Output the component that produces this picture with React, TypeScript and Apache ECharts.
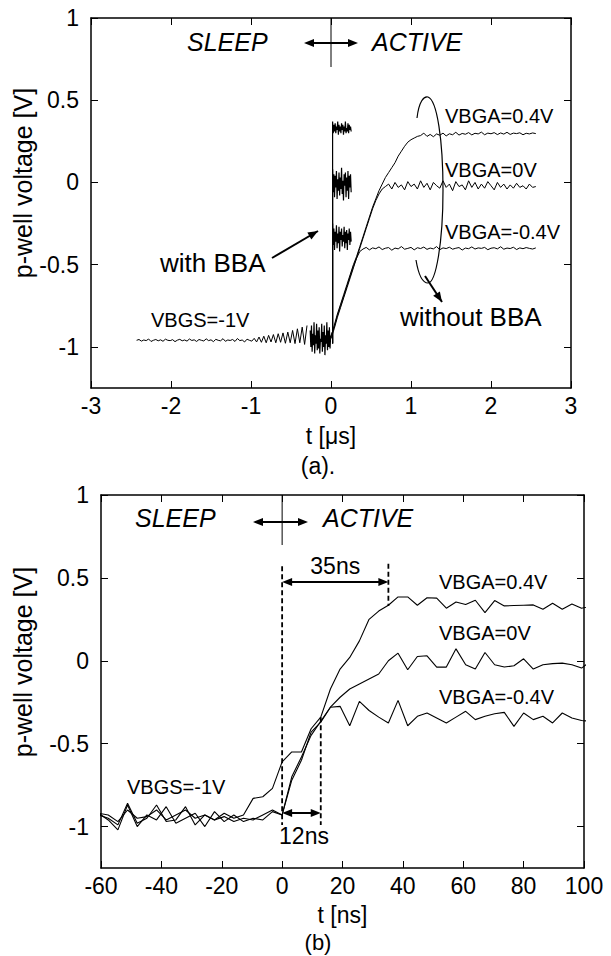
import React, { useEffect, useRef } from "react";
import * as echarts from "echarts";

const FONT = '"Liberation Sans", Arial, Helvetica, sans-serif';

// ---------- (a) microsecond scale ----------
const A_X_TICKS = [-3, -2, -1, 0, 1, 2, 3];
const A_Y_TICKS = [-1, -0.5, 0, 0.5, 1];
const A_SLEEP_T0 = -2.43;
const A_SLEEP_DT = 0.03;
const A_SLEEP = [
  -0.96, -0.955, -0.965, -0.958, -0.962, -0.952, -0.967, -0.96, -0.955, -0.963,
  -0.957, -0.966, -0.953, -0.96, -0.962, -0.956, -0.968, -0.959, -0.954, -0.963,
  -0.958, -0.965, -0.952, -0.961, -0.957, -0.967, -0.955, -0.96, -0.964, -0.951,
  -0.962, -0.957, -0.968, -0.954, -0.96, -0.963, -0.95, -0.966, -0.958, -0.961,
  -0.955, -0.967, -0.949, -0.962, -0.958, -0.97, -0.953, -0.96, -0.965, -0.948,
  -0.97, -0.94, -0.972, -0.935, -0.975, -0.93, -0.97, -0.925, -0.975, -0.92, -0.972,
  -0.915, -0.978, -0.91, -0.975, -0.9, -0.98, -0.89, -0.975, -0.88, -0.985, -0.87,
];
const A_BURST_T0 = -0.26;
const A_BURST_DT = 0.008;
const A_BURST = [
  -0.9, -1.0, -0.87, -1.03, -0.92, -0.99, -0.85, -1.04, -0.93, -0.98,
  -0.86, -1.02, -0.9, -1.01, -0.88, -1.04, -0.95, -0.97, -0.86, -1.03,
  -0.91, -1.0, -0.87, -1.05, -0.93, -0.98, -0.85, -1.02, -0.9, -1.0,
  -0.88, -1.01, -0.93,
];
// with BBA (fast jump)
const A_JUMP_FROM = -0.98;
const A_BBA_T0 = 0.02;
const A_BBA_DT = 0.008;
const A_BBA_P04 = [
  0.37, 0.3, 0.35, 0.31, 0.36, 0.3, 0.34, 0.32, 0.37, 0.29, 0.35, 0.31, 0.34, 0.3, 0.36,
  0.32, 0.35, 0.29, 0.34, 0.31, 0.37, 0.3, 0.33, 0.31, 0.36, 0.3, 0.35, 0.32, 0.34, 0.31,
];
const A_BBA_0 = [
  0.08, -0.06, 0.05, -0.09, 0.04, -0.03, 0.07, -0.1, 0.02, -0.05, 0.06, -0.08, 0.03, -0.04, 0.09,
  -0.07, 0.01, -0.11, 0.05, -0.02, 0.06, -0.09, 0.03, -0.05, 0.07, -0.1, 0.04, -0.03, 0.05, -0.06,
];
const A_BBA_M04 = [
  -0.25, -0.38, -0.28, -0.41, -0.3, -0.36, -0.26, -0.4, -0.31, -0.37, -0.27, -0.42, -0.3, -0.35, -0.28,
  -0.39, -0.32, -0.36, -0.27, -0.4, -0.3, -0.37, -0.29, -0.41, -0.31, -0.35, -0.28, -0.38, -0.3, -0.36,
];
// without BBA (slow ramp), t = 0, 0.04, ... 2.56
const A_NO_T0 = 0;
const A_NO_DT = 0.04;
const A_NO_P04 = [
  -0.94, -0.87, -0.8, -0.74, -0.68, -0.62, -0.56, -0.5, -0.45, -0.39,
  -0.33, -0.27, -0.21, -0.15, -0.1, -0.05, -0.01, 0.03, 0.06, 0.09,
  0.12, 0.16, 0.19, 0.22, 0.245, 0.26, 0.27, 0.28,
  0.285, 0.3, 0.28, 0.292, 0.278, 0.295, 0.287, 0.3, 0.283, 0.296, 0.29, 0.305, 0.288,
  0.298, 0.293, 0.303, 0.289, 0.299, 0.295, 0.306, 0.29, 0.3, 0.296, 0.303, 0.291, 0.301,
  0.294, 0.305, 0.292, 0.3, 0.297, 0.302, 0.29, 0.299, 0.295, 0.301, 0.297,
];
const A_NO_0 = [
  -0.95, -0.89, -0.82, -0.76, -0.7, -0.64, -0.58, -0.52, -0.46, -0.4,
  -0.34, -0.28, -0.22, -0.16, -0.11, -0.07, -0.04, -0.025,
  -0.01, -0.04, 0.0, -0.03, -0.015, -0.045, 0.005, -0.025, -0.01, -0.04, 0.01, -0.03,
  -0.005, -0.045, 0.0, -0.02, -0.035, 0.01, -0.03, -0.01, -0.05, 0.005, -0.025, -0.015,
  -0.045, 0.01, -0.03, 0.0, -0.04, -0.01, -0.035, 0.005, -0.02, -0.045, 0.0, -0.03,
  -0.01, -0.04, -0.015, -0.035, -0.005, -0.03, -0.02, -0.04, -0.01, -0.03, -0.025,
];
const A_NO_M04 = [
  -0.93, -0.88, -0.81, -0.75, -0.69, -0.63, -0.57, -0.51, -0.46, -0.42, -0.405,
  -0.395, -0.41, -0.398, -0.403, -0.392, -0.408, -0.4, -0.396, -0.412, -0.399,
  -0.404, -0.39, -0.406, -0.401, -0.395, -0.41, -0.397, -0.402, -0.393, -0.407,
  -0.399, -0.404, -0.39, -0.409, -0.398, -0.402, -0.394, -0.406, -0.4, -0.396,
  -0.411, -0.399, -0.403, -0.392, -0.405, -0.398, -0.401, -0.395, -0.409, -0.4,
  -0.397, -0.404, -0.391, -0.406, -0.399, -0.402, -0.394, -0.408, -0.398, -0.403,
  -0.396, -0.401, -0.405, -0.398,
];

// ---------- (b) nanosecond scale ----------
const B_X_TICKS = [-60, -40, -20, 0, 20, 40, 60, 80, 100];
const B_Y_TICKS = [-1, -0.5, 0, 0.5, 1];
const B_T0 = -60.8;
const B_DT = 3.2;
const B_P04 = [
  -0.92, -0.93, -0.97, -0.9, -0.95, -0.94, -0.9, -0.96, -0.93, -0.9, -0.95, -0.93, -0.96, -0.92, -0.95, -0.93,
  -0.83, -0.82, -0.77, -0.61, -0.55, -0.55, -0.41, -0.34, -0.17, -0.05, 0.02, 0.12, 0.25, 0.3,
  0.335, 0.385, 0.385, 0.335, 0.38, 0.378, 0.317, 0.355, 0.34, 0.365, 0.29, 0.363, 0.331,
  0.333, 0.335, 0.337, 0.311, 0.347, 0.311, 0.343, 0.317, 0.33,
];
const B_0 = [
  -0.93, -0.95, -0.99, -0.86, -0.98, -0.95, -0.87, -0.97, -0.96, -0.88, -0.99, -0.93, -0.96, -0.94, -0.97,
  -0.95, -0.96, -0.93, -0.9,
  -0.93, -0.72, -0.6, -0.43, -0.37, -0.28, -0.22, -0.17, -0.14, -0.11, -0.08, 0.0, 0.046, -0.054,
  0.026, 0.03, -0.038, -0.038, 0.072, -0.024, -0.05, 0.05, -0.024, -0.038, -0.03, 0.012, -0.05,
  -0.024, -0.017, -0.014, -0.024, -0.044, 0.0,
];
const B_M04 = [
  -0.92, -0.96, -1.02, -0.87, -1.0, -0.93, -0.96, -0.88, -0.98, -0.95, -0.92, -1.0, -0.91, -0.97, -0.93,
  -0.97, -0.95, -0.96, -0.91,
  -0.93, -0.7, -0.58, -0.45, -0.365, -0.28, -0.275, -0.392, -0.245, -0.3, -0.34, -0.375, -0.239,
  -0.392, -0.335, -0.315, -0.345, -0.375, -0.34, -0.305, -0.355, -0.335, -0.32, -0.311, -0.396,
  -0.315, -0.355, -0.335, -0.375, -0.315, -0.345, -0.36, -0.366,
];
const B_MARK_START = 0;
const B_MARK_12 = 12.8;
const B_MARK_35 = 35.2;

// ---------- layout ----------
const GA = { left: 91, top: 18, width: 480, height: 370 };
const GB = { left: 101, top: 495, width: 483, height: 373 };

const seq = (t0: number, dt: number, vals: number[]) =>
  vals.map((v, i) => [Number((t0 + dt * i).toFixed(4)), v]);

const axA = (t: number) => GA.left + ((t + 3) / 6) * GA.width;
const axB = (t: number) => GB.left + ((t + 60) / 160) * GB.width;
const ayB = (v: number) => GB.top + ((1 - v) / 2.25) * GB.height;

function head(x1: number, y1: number, x2: number, y2: number, len = 10, w = 4) {
  const dx = x2 - x1;
  const dy = y2 - y1;
  const L = Math.hypot(dx, dy);
  const ux = dx / L;
  const uy = dy / L;
  const bx = x2 - ux * len;
  const by = y2 - uy * len;
  return {
    type: "polygon",
    shape: { points: [[x2, y2], [bx - uy * w, by + ux * w], [bx + uy * w, by - ux * w]] },
    style: { fill: "#000" },
  };
}
function arrow(x1: number, y1: number, x2: number, y2: number, width = 2) {
  return [
    { type: "line", shape: { x1, y1, x2, y2 }, style: { stroke: "#000", lineWidth: width } },
    head(x1, y1, x2, y2),
  ];
}
function dblArrow(x1: number, x2: number, y: number, width = 2) {
  return [
    { type: "line", shape: { x1: x1 + 4, y1: y, x2: x2 - 4, y2: y }, style: { stroke: "#000", lineWidth: width } },
    head(x2, y, x1, y),
    head(x1, y, x2, y),
  ];
}
function label(text: string, x: number, y: number, size: number, opts: any = {}) {
  return {
    type: "text",
    x,
    y,
    rotation: opts.rotation || 0,
    style: {
      text,
      fill: "#000",
      fontSize: size,
      fontFamily: FONT,
      fontStyle: opts.italic ? "italic" : "normal",
      align: opts.align || "left",
      verticalAlign: "middle",
      textAlign: opts.align || "left",
      textVerticalAlign: "middle",
    },
  };
}
function dashed(x: number, y1: number, y2: number) {
  return {
    type: "line",
    shape: { x1: x, y1, x2: x, y2 },
    style: { stroke: "#000", lineWidth: 1.8, lineDash: [5, 3] },
  };
}

const LOOP_PATH =
  "M417 118 C419 101 424 96 428 97 C437 100 443 140 443 190 C443 242 436 283 428 283 C422 283 418 272 416 260";
echarts.graphic.registerShape("bbaLoop", echarts.graphic.extendPath(LOOP_PATH, {}));

const lineSeries = (data: number[][], xi: number, yi: number, width = 1) => ({
  type: "line",
  xAxisIndex: xi,
  yAxisIndex: yi,
  data,
  showSymbol: false,
  symbol: "none",
  silent: true,
  clip: true,
  lineStyle: { color: "#000", width },
});

function xAxisDef(grid: number, min: number, max: number, interval: number, pos: string, show: boolean) {
  return {
    type: "value",
    gridIndex: grid,
    min,
    max,
    interval,
    position: pos,
    axisLine: { show: true, onZero: false, lineStyle: { color: "#000", width: 1.5 } },
    axisTick: { show: true, inside: true, length: 7, lineStyle: { color: "#000", width: 1 } },
    axisLabel: { show, color: "#000", fontSize: 23, fontFamily: FONT, margin: 6 },
    splitLine: { show: false },
  };
}
function yAxisDef(grid: number, ticks: number[], pos: string, show: boolean) {
  return {
    type: "value",
    gridIndex: grid,
    min: -1.25,
    max: 1,
    position: pos,
    axisLine: { show: true, onZero: false, lineStyle: { color: "#000", width: 1.5 } },
    axisTick: { show: true, inside: true, length: 7, customValues: ticks, lineStyle: { color: "#000", width: 1 } },
    axisLabel: { show, customValues: ticks, color: "#000", fontSize: 23, fontFamily: FONT, margin: 12 },
    splitLine: { show: false },
  };
}

export default function App() {
  const ref = useRef<HTMLDivElement>(null);
  useEffect(() => {
    if (!ref.current) return;
    const chart = echarts.init(ref.current, undefined, { renderer: "svg" });

    const graphic: any[] = [
      // ---- (a) ----
      label("SLEEP", 187, 42, 25, { italic: true }),
      label("ACTIVE", 372, 42, 25, { italic: true }),
      { type: "line", shape: { x1: axA(0), y1: GA.top, x2: axA(0), y2: 67 }, style: { stroke: "#000", lineWidth: 1 } },
      ...dblArrow(304, 358, 43),
      label("VBGA=0.4V", 445, 116, 20),
      label("VBGA=0V", 445, 170, 20),
      label("VBGA=-0.4V", 445, 232, 20),
      label("VBGS=-1V", 151, 320, 20),
      label("with BBA", 160, 263, 26),
      ...arrow(272, 258, 318, 231),
      label("without BBA", 400, 317, 26),
      { type: "bbaLoop", x: 0, y: 0, style: { stroke: "#000", fill: "none", lineWidth: 1.2 } },
      ...arrow(425, 276, 442, 302),
      label("t [\u03bcs]", axA(0), 436, 23, { align: "center" }),
      label("(a).", 318, 466, 23, { align: "center" }),
      label("p-well voltage [V]", 23, 183, 25, { align: "center", rotation: Math.PI / 2 }),

      // ---- (b) ----
      label("SLEEP", 135, 518, 25, { italic: true }),
      label("ACTIVE", 323, 518, 25, { italic: true }),
      { type: "line", shape: { x1: axB(0), y1: GB.top, x2: axB(0), y2: 545 }, style: { stroke: "#000", lineWidth: 1 } },
      ...dblArrow(253, 308, 522),
      dashed(axB(B_MARK_START), ayB(0.57), ayB(-0.99)),
      dashed(axB(B_MARK_12), ayB(-0.34), ayB(-0.99)),
      dashed(axB(B_MARK_35), ayB(0.585), ayB(0.33)),
      ...dblArrow(axB(B_MARK_START), axB(B_MARK_35), 582),
      label("35ns", (axB(B_MARK_START) + axB(B_MARK_35)) / 2, 566, 23, { align: "center" }),
      ...dblArrow(axB(B_MARK_START), axB(B_MARK_12), 813),
      label("12ns", 304, 836, 23, { align: "center" }),
      label("VBGA=0.4V", 439, 582, 20),
      label("VBGA=0V", 439, 633, 20),
      label("VBGA=-0.4V", 439, 697, 20),
      label("VBGS=-1V", 127, 787, 20),
      label("t [ns]", axB(20), 915, 23, { align: "center" }),
      label("(b)", 318, 942, 22, { align: "center" }),
      label("p-well voltage [V]", 23, 662, 25, { align: "center", rotation: Math.PI / 2 }),
    ];

    chart.setOption({
      animation: false,
      backgroundColor: "#fff",
      textStyle: { fontFamily: FONT },
      grid: [
        { ...GA, containLabel: false },
        { ...GB, containLabel: false },
      ],
      xAxis: [
        xAxisDef(0, A_X_TICKS[0], A_X_TICKS[A_X_TICKS.length - 1], 1, "bottom", true),
        xAxisDef(0, A_X_TICKS[0], A_X_TICKS[A_X_TICKS.length - 1], 1, "top", false),
        xAxisDef(1, B_X_TICKS[0], B_X_TICKS[B_X_TICKS.length - 1], 20, "bottom", true),
        xAxisDef(1, B_X_TICKS[0], B_X_TICKS[B_X_TICKS.length - 1], 20, "top", false),
      ],
      yAxis: [
        yAxisDef(0, A_Y_TICKS, "left", true),
        yAxisDef(0, A_Y_TICKS, "right", false),
        yAxisDef(1, B_Y_TICKS, "left", true),
        yAxisDef(1, B_Y_TICKS, "right", false),
      ],
      series: [
        lineSeries(seq(A_SLEEP_T0, A_SLEEP_DT, A_SLEEP), 0, 0),
        lineSeries(seq(A_BURST_T0, A_BURST_DT, A_BURST), 0, 0, 1.2),
        lineSeries([[A_BBA_T0, A_JUMP_FROM], ...seq(A_BBA_T0, A_BBA_DT, A_BBA_P04)], 0, 0, 1.2),
        lineSeries([[A_BBA_T0, A_JUMP_FROM], ...seq(A_BBA_T0, A_BBA_DT, A_BBA_0)], 0, 0, 1.2),
        lineSeries([[A_BBA_T0, A_JUMP_FROM], ...seq(A_BBA_T0, A_BBA_DT, A_BBA_M04)], 0, 0, 1.2),
        lineSeries(seq(A_NO_T0, A_NO_DT, A_NO_P04), 0, 0),
        lineSeries(seq(A_NO_T0, A_NO_DT, A_NO_0), 0, 0),
        lineSeries(seq(A_NO_T0, A_NO_DT, A_NO_M04), 0, 0),
        lineSeries(seq(B_T0, B_DT, B_P04), 2, 2, 1.1),
        lineSeries(seq(B_T0, B_DT, B_0), 2, 2, 1.1),
        lineSeries(seq(B_T0, B_DT, B_M04), 2, 2, 1.1),
      ],
      graphic,
    });
    return () => chart.dispose();
  }, []);
  return (
    <div
      ref={ref}
      style={{ position: "fixed", left: 0, top: 0, width: 611, height: 956, background: "#fff" }}
    />
  );
}
